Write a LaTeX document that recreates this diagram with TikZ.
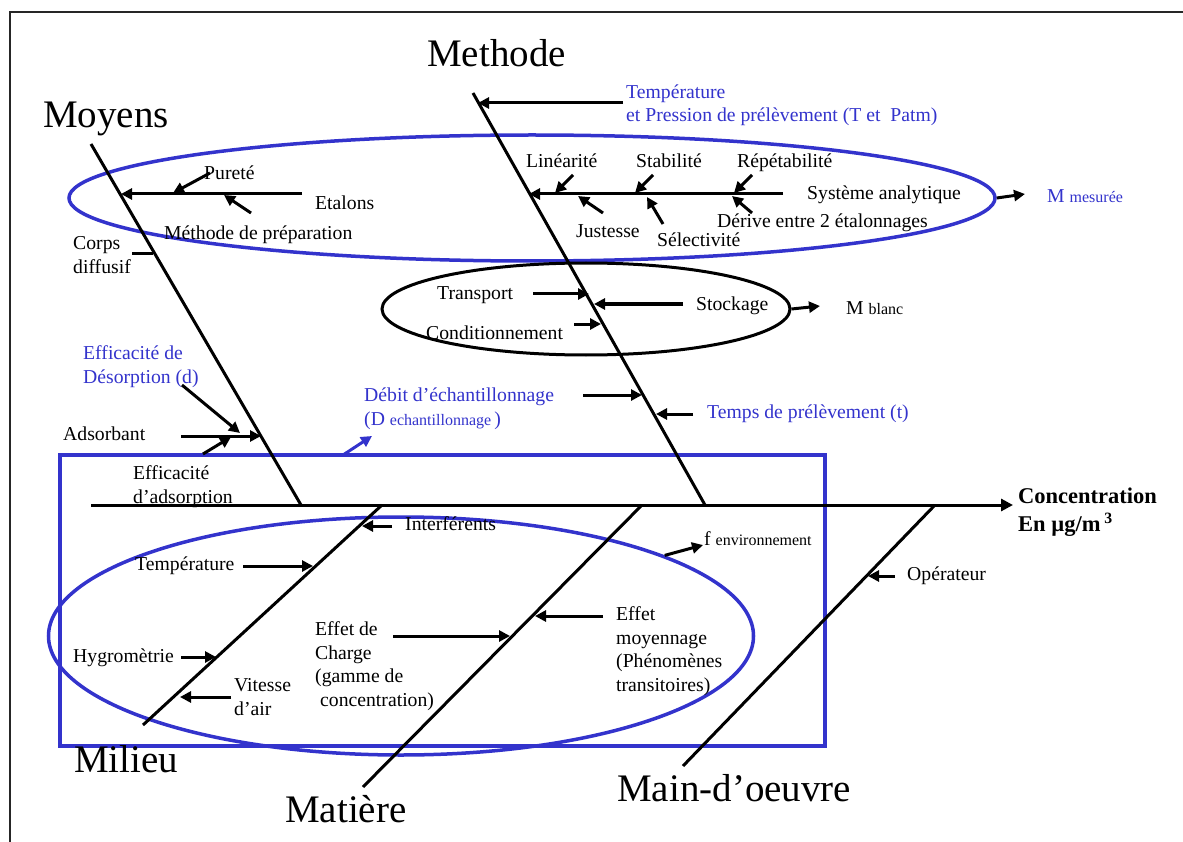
\documentclass[tikz,border=0pt]{standalone}
\usepackage{fontspec}
\setmainfont{Liberation Serif}
\usepackage{xcolor}
\usetikzlibrary{arrows.meta,shapes.geometric,positioning,calc}
\definecolor{ishiblue}{RGB}{51,51,204}
\newcommand{\petit}[1]{{\fontsize{16}{18}\selectfont #1}}

\begin{document}
\begin{tikzpicture}[x=1pt,y=-1pt,
    bone/.style={line width=3pt},
    spike/.style={line width=3pt,-{Triangle[length=11pt,width=11pt]}},
    lbl/.style={anchor=base west,inner sep=0pt,align=left,font=\fontsize{19.7}{23.5}\selectfont},
    big/.style={anchor=base west,inner sep=0pt,font=\fontsize{39}{45}\selectfont},
    zone/.style={draw=ishiblue,line width=3.5pt,inner sep=0pt}]

    \useasboundingbox (0,0) rectangle (1183,842);
    \draw[line width=2pt,black!85] (10,842) -- (10,12) -- (1183,12);

    \node[zone,ellipse,minimum width=926pt,minimum height=126pt] (sysell) at (532,198) {};
    \node[zone,draw=black,line width=3pt,ellipse,minimum width=408pt,minimum height=92pt] (blell) at (586,309) {};
    \node[zone,ellipse,minimum width=705pt,minimum height=238pt] (envell) at (401,636) {};
    \node[zone,rectangle,minimum width=765pt,minimum height=291pt] (grp) at (442.5,600.5) {};

    \coordinate (spL) at (91,505);
    \coordinate (spR) at (1013,505);
    \coordinate (moyT) at (91,144);
    \coordinate (moyB) at (301,505);
    \coordinate (metT) at (473,93);
    \coordinate (metB) at (705,505);
    \coordinate (milB) at (143,725);
    \coordinate (milT) at (382,505);
    \coordinate (matB) at (363,787);
    \coordinate (matT) at (642,505);
    \coordinate (mdoB) at (683,766);
    \coordinate (mdoT) at (935,505);

    \draw[bone,-{Triangle[length=12pt,width=12pt]}] (spL) -- (spR);
    \draw[bone] (moyT) -- (moyB);
    \draw[bone] (metT) -- (metB);
    \draw[bone] (milB) -- (milT);
    \draw[bone] (matB) -- (matT);
    \draw[bone] (mdoB) -- (mdoT);

    \node[big] (moyens) at (43,128) {Moyens};
    \node[big] (methode) at (427,67) {Methode};
    \node[big] (milieu) at (74,772) {Milieu};
    \node[big] (matiere) at (285,822) {Matière};
    \node[big] (mdo) at (617,801) {Main-d’oeuvre};
    \node[lbl,font=\fontsize{22.5}{28}\bfseries] (conc) at (1018,531) {Concentration\\En µg/m\,\textsuperscript{3}};

    \node[lbl] (purete) at (204,180) {Pureté};
    \node[lbl] (etalons) at (315,210) {Etalons};
    \node[lbl] (methprep) at (164,240) {Méthode de préparation};
    \node[lbl] (corps) at (73,273) {Corps\\diffusif};
    \node[lbl,text=ishiblue] (effdes) at (83,383) {Efficacité de\\Désorption (d)};
    \node[lbl] (adsorbant) at (63,440) {Adsorbant};
    \node[lbl] (effads) at (133,503) {Efficacité\\d’adsorption};

    \coordinate (et0) at (302,194);  \coordinate (et1) at (121,194);
    \coordinate (pu0) at (210,173);  \coordinate (pu1) at (173,193);
    \coordinate (mp0) at (251,213);  \coordinate (mp1) at (224,195);
    \coordinate (cd0) at (132,254);  \coordinate (cd1) at (153,254);
    \coordinate (ed0) at (182,385);  \coordinate (ed1) at (240,433);
    \coordinate (ad0) at (181,436);  \coordinate (ad1) at (261,436);
    \coordinate (ea0) at (203,454);  \coordinate (ea1) at (231,437);
    \draw[spike] (et0) -- (et1);
    \draw[spike] (pu0) -- (pu1);
    \draw[spike] (mp0) -- (mp1);
    \draw[bone] (cd0) -- (cd1);
    \draw[spike] (ed0) -- (ed1);
    \draw[spike] (ad0) -- (ad1);
    \draw[spike] (ea0) -- (ea1);

    \node[lbl,text=ishiblue] (temppres) at (626,122) {Température\\et Pression de prélèvement (T et \ Patm)};
    \node[lbl] (linearite) at (526,168) {Linéarité};
    \node[lbl] (stabilite) at (636,168) {Stabilité};
    \node[lbl] (repet) at (737,168) {Répétabilité};
    \node[lbl] (sysana) at (807,200) {Système analytique};
    \node[lbl] (justesse) at (576,238) {Justesse};
    \node[lbl] (selectivite) at (657,247) {Sélectivité};
    \node[lbl] (derive) at (717,228) {Dérive entre 2 étalonnages};
    \node[lbl,text=ishiblue] (mmes) at (1047,203) {M \petit{mesurée}};

    \coordinate (tp0) at (623,103);  \coordinate (tp1) at (478,103);
    \coordinate (sa0) at (783,194);  \coordinate (sa1) at (529,194);
    \coordinate (li0) at (573,175);  \coordinate (li1) at (555,193);
    \coordinate (st0) at (653,175);  \coordinate (st1) at (635,193);
    \coordinate (re0) at (752,175);  \coordinate (re1) at (734,193);
    \coordinate (ju0) at (603,213);  \coordinate (ju1) at (578,196);
    \coordinate (se0) at (663,224);  \coordinate (se1) at (647,197);
    \coordinate (de0) at (752,213);  \coordinate (de1) at (732,196);
    \coordinate (mm1) at (1025,194);
    \draw[spike] (tp0) -- (tp1);
    \draw[spike] (sa0) -- (sa1);
    \draw[spike] (li0) -- (li1);
    \draw[spike] (st0) -- (st1);
    \draw[spike] (re0) -- (re1);
    \draw[spike] (ju0) -- (ju1);
    \draw[spike] (se0) -- (se1);
    \draw[spike] (de0) -- (de1);
    \draw[spike] (sysell.east) -- (mm1);

    \node[lbl] (transport) at (437,299) {Transport};
    \node[lbl] (stockage) at (696,310) {Stockage};
    \node[lbl] (condit) at (426,339) {Conditionnement};
    \node[lbl] (mblanc) at (846,314) {M \petit{blanc}};
    \node[lbl,text=ishiblue] (debit) at (364,425) {Débit d’échantillonnage\\(D \petit{echantillonnage}\,)};
    \node[lbl,text=ishiblue] (temps) at (707,418) {Temps de prélèvement (t)};

    \coordinate (tr0) at (533,294);  \coordinate (tr1) at (589,294);
    \coordinate (sk0) at (683,304);  \coordinate (sk1) at (594,304);
    \coordinate (co0) at (574,324);  \coordinate (co1) at (601,324);
    \coordinate (mb1) at (820,306);
    \coordinate (db0) at (583,395);  \coordinate (db1) at (642,395);
    \coordinate (te0) at (693,414);  \coordinate (te1) at (656,414);
    \coordinate (dbt0) at (343,455); \coordinate (dbt1) at (372,436);
    \draw[spike] (tr0) -- (tr1);
    \draw[spike] (sk0) -- (sk1);
    \draw[spike] (co0) -- (co1);
    \draw[spike] (blell.east) -- (mb1);
    \draw[spike] (db0) -- (db1);
    \draw[spike] (te0) -- (te1);
    \draw[spike,ishiblue] (dbt0) -- (dbt1);

    \node[lbl] (interf) at (405,530) {Interférents};
    \node[lbl] (tempmil) at (135,570) {Température};
    \node[lbl] (hygro) at (73,662) {Hygromètrie};
    \node[lbl] (vitesse) at (234,715) {Vitesse\\d’air};
    \node[lbl] (effcharge) at (315,706) {Effet de\\Charge\\(gamme de\\\hspace*{5pt}concentration)};
    \node[lbl] (effmoy) at (616,691) {Effet\\moyennage\\(Phénomènes\\transitoires)};
    \node[lbl] (fenv) at (704,545) {f \petit{environnement}};
    \node[lbl] (operateur) at (907,580) {Opérateur};

    \coordinate (in0) at (392,526);  \coordinate (in1) at (362,526);
    \coordinate (tm0) at (243,566);  \coordinate (tm1) at (313,566);
    \coordinate (hy0) at (181,657);  \coordinate (hy1) at (216,657);
    \coordinate (va0) at (231,697);  \coordinate (va1) at (180,697);
    \coordinate (ec0) at (393,636);  \coordinate (ec1) at (510,636);
    \coordinate (em0) at (603,616);  \coordinate (em1) at (535,616);
    \coordinate (fe1) at (703,545);
    \coordinate (op0) at (895,576);  \coordinate (op1) at (868,576);
    \draw[spike] (in0) -- (in1);
    \draw[spike] (tm0) -- (tm1);
    \draw[spike] (hy0) -- (hy1);
    \draw[spike] (va0) -- (va1);
    \draw[spike] (ec0) -- (ec1);
    \draw[spike] (em0) -- (em1);
    \draw[spike] (envell.17) -- (fe1);
    \draw[spike] (op0) -- (op1);
\end{tikzpicture}
\end{document}
